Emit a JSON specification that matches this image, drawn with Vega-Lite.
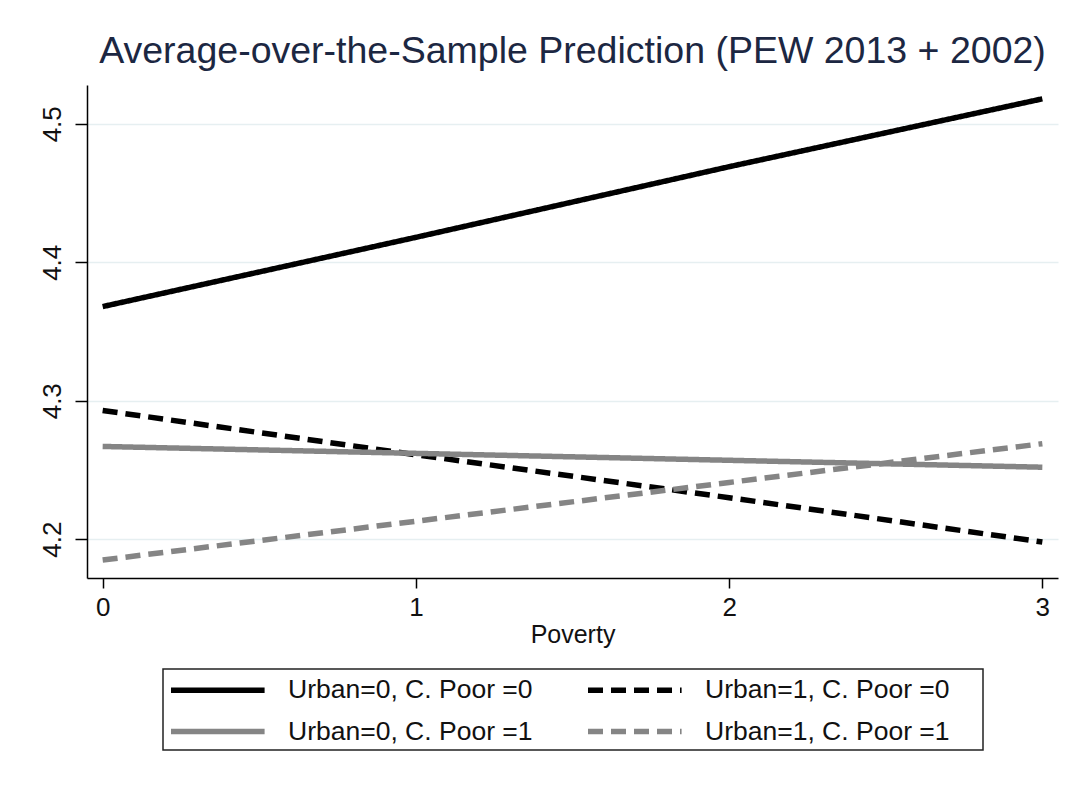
{
  "$schema": "https://vega.github.io/schema/vega-lite/v6.json",
  "width": 971,
  "height": 493,
  "autosize": {"type": "none"},
  "padding": {"left": 87, "top": 85, "right": 19, "bottom": 209},
  "background": "white",
  "title": {
    "text": "Average-over-the-Sample Prediction (PEW 2013 + 2002)",
    "font": "Liberation Sans",
    "fontSize": 37.5,
    "fontWeight": "normal",
    "color": "#1c2742",
    "anchor": "middle",
    "baseline": "alphabetic",
    "offset": 20,
    "dy": 35
  },
  "config": {
    "view": {"stroke": null},
    "font": "Liberation Sans",
    "legend": {
      "orient": "none",
      "legendX": 76,
      "legendY": 584,
      "direction": "horizontal",
      "columns": 2,
      "symbolType": "M-1,0H6.2",
      "symbolSize": 676,
      "symbolStrokeWidth": 5.5,
      "labelFont": "Liberation Sans",
      "labelFontSize": 26.5,
      "labelColor": "#111111",
      "labelOffset": 88,
      "labelLimit": 400,
      "columnPadding": 44,
      "rowPadding": 11.5,
      "padding": 5,
      "titleOrient": "right",
      "titleFontSize": 10,
      "titlePadding": 28,
      "strokeColor": "#222222",
      "strokeWidth": 1.5
    }
  },
  "data": {
    "values": [
      {"group": "Urban=0, C. Poor =0", "poverty": 0, "prediction": 4.368},
      {"group": "Urban=0, C. Poor =0", "poverty": 1, "prediction": 4.418},
      {"group": "Urban=0, C. Poor =0", "poverty": 2, "prediction": 4.469},
      {"group": "Urban=0, C. Poor =0", "poverty": 3, "prediction": 4.518},
      {"group": "Urban=1, C. Poor =0", "poverty": 0, "prediction": 4.293},
      {"group": "Urban=1, C. Poor =0", "poverty": 1, "prediction": 4.261},
      {"group": "Urban=1, C. Poor =0", "poverty": 2, "prediction": 4.230},
      {"group": "Urban=1, C. Poor =0", "poverty": 3, "prediction": 4.198},
      {"group": "Urban=0, C. Poor =1", "poverty": 0, "prediction": 4.267},
      {"group": "Urban=0, C. Poor =1", "poverty": 1, "prediction": 4.262},
      {"group": "Urban=0, C. Poor =1", "poverty": 2, "prediction": 4.257},
      {"group": "Urban=0, C. Poor =1", "poverty": 3, "prediction": 4.252},
      {"group": "Urban=1, C. Poor =1", "poverty": 0, "prediction": 4.185},
      {"group": "Urban=1, C. Poor =1", "poverty": 1, "prediction": 4.213},
      {"group": "Urban=1, C. Poor =1", "poverty": 2, "prediction": 4.241},
      {"group": "Urban=1, C. Poor =1", "poverty": 3, "prediction": 4.269}
    ]
  },
  "mark": {"type": "line", "strokeWidth": 5.5},
  "encoding": {
    "x": {
      "field": "poverty",
      "type": "quantitative",
      "scale": {"domain": [-0.05, 3.05], "nice": false, "zero": false},
      "axis": {
        "values": [0, 1, 2, 3],
        "format": "d",
        "title": "Poverty",
        "grid": false,
        "domainColor": "#000000",
        "domainWidth": 1.5,
        "tickColor": "#000000",
        "tickWidth": 1.5,
        "tickSize": 10,
        "labelFontSize": 26,
        "labelColor": "#111111",
        "labelPadding": 6,
        "titleFontSize": 25,
        "titleFontWeight": "normal",
        "titleColor": "#111111",
        "titlePadding": 2
      }
    },
    "y": {
      "field": "prediction",
      "type": "quantitative",
      "scale": {"domain": [4.172, 4.528], "nice": false, "zero": false},
      "axis": {
        "values": [4.2, 4.3, 4.4, 4.5],
        "format": ".1f",
        "title": null,
        "grid": true,
        "gridColor": "#E6EFF1",
        "gridWidth": 1.5,
        "domainColor": "#000000",
        "domainWidth": 1.5,
        "tickColor": "#000000",
        "tickWidth": 1.5,
        "tickSize": 12,
        "labelAngle": -90,
        "labelAlign": "center",
        "labelBaseline": "alphabetic",
        "labelFontSize": 26,
        "labelColor": "#111111",
        "labelPadding": 15
      }
    },
    "color": {
      "field": "group",
      "type": "nominal",
      "scale": {
        "domain": ["Urban=0, C. Poor =0", "Urban=1, C. Poor =0", "Urban=0, C. Poor =1", "Urban=1, C. Poor =1"],
        "range": ["#000000", "#000000", "#858585", "#858585"]
      },
      "legend": {"title": " "}
    },
    "strokeDash": {
      "field": "group",
      "type": "nominal",
      "scale": {
        "domain": ["Urban=0, C. Poor =0", "Urban=1, C. Poor =0", "Urban=0, C. Poor =1", "Urban=1, C. Poor =1"],
        "range": [[1, 0], [15, 8], [1, 0], [15, 8]]
      },
      "legend": {"title": " "}
    }
  }
}
